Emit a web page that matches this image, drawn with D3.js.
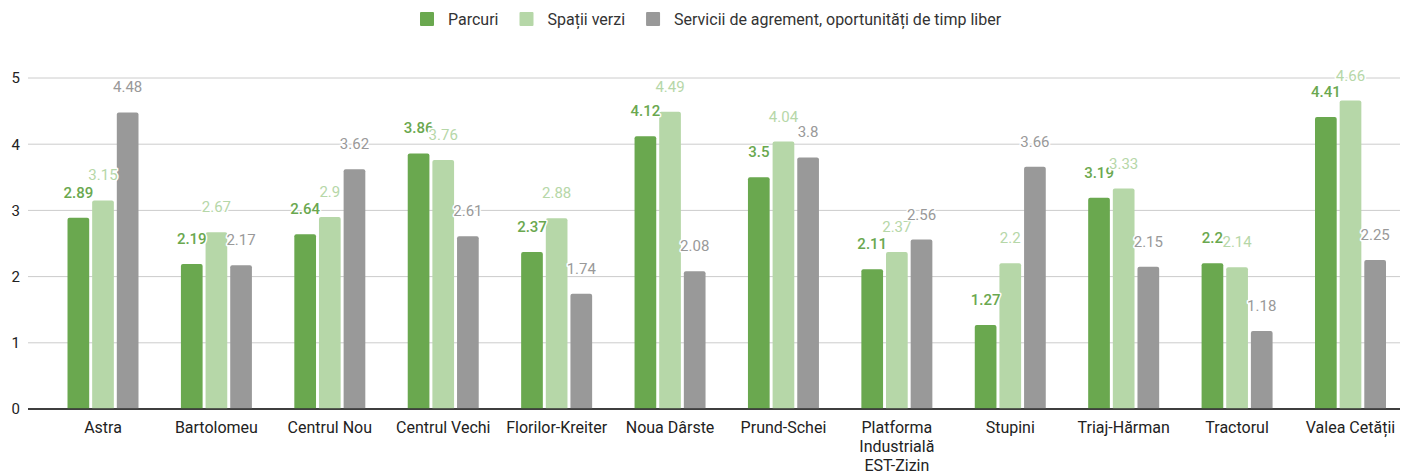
<!DOCTYPE html>
<html>
<head>
<meta charset="utf-8">
<script src="https://cdn.jsdelivr.net/npm/d3@7"></script>
<style>
  body { margin: 0; background: #fff; }
  svg { display: block; font-family: Roboto, "Noto Sans", sans-serif; }
</style>
</head>
<body>
<div id="chart"></div>
<script>
// data
const districts = ["Astra", "Bartolomeu", "Centrul Nou", "Centrul Vechi", "Florilor-Kreiter", "Noua Dârste",
    "Prund-Schei", "Platforma Industrială EST-Zizin", "Stupini", "Triaj-Hărman", "Tractorul", "Valea Cetății"];
const seriesNames = ["Parcuri", "Spații verzi", "Servicii de agrement, oportunități de timp liber"];
const parcuri = [2.89, 2.19, 2.64, 3.86, 2.37, 4.12, 3.5, 2.11, 1.27, 3.19, 2.2, 4.41];
const spatiiVerzi = [3.15, 2.67, 2.9, 3.76, 2.88, 4.49, 4.04, 2.37, 2.2, 3.33, 2.14, 4.66];
const servicii = [4.48, 2.17, 3.62, 2.61, 1.74, 2.08, 3.8, 2.56, 3.66, 2.15, 1.18, 2.25];
const yTicks = [0, 1, 2, 3, 4, 5];

// constants
const width = 1410;
const height = 476;
const colors = ["#6aa84f", "#b6d7a8", "#999999"];
const labelColors = ["#6aa84f", "#b6d7a8", "#999999"];
const seriesValues = [parcuri, spatiiVerzi, servicii];

const svg = d3.select("#chart")
    .append("svg")
    .attr("width", width)
    .attr("height", height);

const y = d3.scaleLinear()
    .domain([0, 5])
    .range([409, 78]);

const x0 = d3.scaleBand()
    .domain(districts)
    .range([46.3, 1407.2])
    .paddingInner(0.374)
    .paddingOuter(0.187);

const x1 = d3.scaleBand()
    .domain(d3.range(seriesNames.length))
    .range([0, x0.bandwidth()])
    .paddingInner(0.12);

// gridlines + y labels
svg.append("g")
    .selectAll("line")
    .data(yTicks)
    .enter()
    .append("line")
    .attr("x1", 28)
    .attr("x2", 1400)
    .attr("y1", d => y(d))
    .attr("y2", d => y(d))
    .style("stroke", d => d == 0 ? "#333" : "#cccccc")
    .style("stroke-width", d => d == 0 ? 1.5 : 1);

svg.append("g")
    .selectAll("text")
    .data(yTicks)
    .enter()
    .append("text")
    .attr("x", 20)
    .attr("y", d => y(d))
    .attr("dy", "0.36em")
    .attr("text-anchor", "end")
    .style("font-size", "15px")
    .style("fill", "#222")
    .text(d => d);

// bars
const groups = svg.append("g")
    .selectAll("g")
    .data(districts)
    .enter()
    .append("g")
    .attr("transform", d => "translate(" + x0(d) + ",0)");

groups.selectAll("path")
    .data((d, i) => seriesValues.map((vals, s) => ({ s: s, v: vals[i] })))
    .enter()
    .append("path")
    .attr("d", d => {
        const bx = x1(d.s), bw = x1.bandwidth(), top = y(d.v), bot = y(0), r = 2;
        return "M" + bx + "," + bot + "V" + (top + r) + "Q" + bx + "," + top + " " + (bx + r) + "," + top +
            "H" + (bx + bw - r) + "Q" + (bx + bw) + "," + top + " " + (bx + bw) + "," + (top + r) + "V" + bot + "Z";
    })
    .style("fill", d => colors[d.s]);

// re-draw zero line over bars
svg.append("line")
    .attr("x1", 28)
    .attr("x2", 1400)
    .attr("y1", y(0))
    .attr("y2", y(0))
    .style("stroke", "#333")
    .style("stroke-width", 1.5);

// value labels
groups.selectAll("text.val")
    .data((d, i) => seriesValues.map((vals, s) => ({ s: s, v: vals[i] })))
    .enter()
    .append("text")
    .attr("class", "val")
    .attr("x", d => x1(d.s) + x1.bandwidth() / 2)
    .attr("y", d => y(d.v) - 20)
    .attr("text-anchor", "middle")
    .style("font-size", "15px")
    .style("fill", d => labelColors[d.s])
    .style("font-weight", d => d.s == 0 ? 500 : 400)
    .style("stroke", "#fff")
    .style("stroke-width", 3)
    .style("stroke-linejoin", "round")
    .style("paint-order", "stroke")
    .text(d => d.v);

// category labels, wrapped
const catLabels = svg.append("g")
    .selectAll("text")
    .data(districts)
    .enter()
    .append("text")
    .attr("x", d => x0(d) + x0.bandwidth() / 2)
    .attr("y", 433)
    .attr("text-anchor", "middle")
    .style("font-size", "16px")
    .style("fill", "#222");

catLabels.each(function(d) {
    const el = d3.select(this);
    const words = d.split(" ");
    let lines = [];
    let line = [];
    const tmp = el.append("tspan");
    words.forEach(w => {
        const test = line.concat([w]).join(" ");
        tmp.text(test);
        if (tmp.node().getComputedTextLength() > 110 && line.length) {
            lines.push(line.join(" "));
            line = [w];
        } else {
            line.push(w);
        }
    });
    lines.push(line.join(" "));
    tmp.remove();
    lines.forEach((l, i) => {
        el.append("tspan")
            .attr("x", x0(d) + x0.bandwidth() / 2)
            .attr("dy", i == 0 ? 0 : 19)
            .text(l);
    });
});

// legend
const legend = svg.append("g");
let lx = 420;
seriesNames.forEach((name, i) => {
    legend.append("rect")
        .attr("x", lx)
        .attr("y", 12)
        .attr("width", 14)
        .attr("height", 14)
        .attr("rx", 1)
        .style("fill", colors[i]);
    const t = legend.append("text")
        .attr("x", lx + 28)
        .attr("y", 19)
        .attr("dy", "0.36em")
        .style("font-size", "16px")
        .style("fill", "#333")
        .text(name);
    lx += 28 + t.node().getComputedTextLength() + 21;
});
</script>
</body>
</html>
